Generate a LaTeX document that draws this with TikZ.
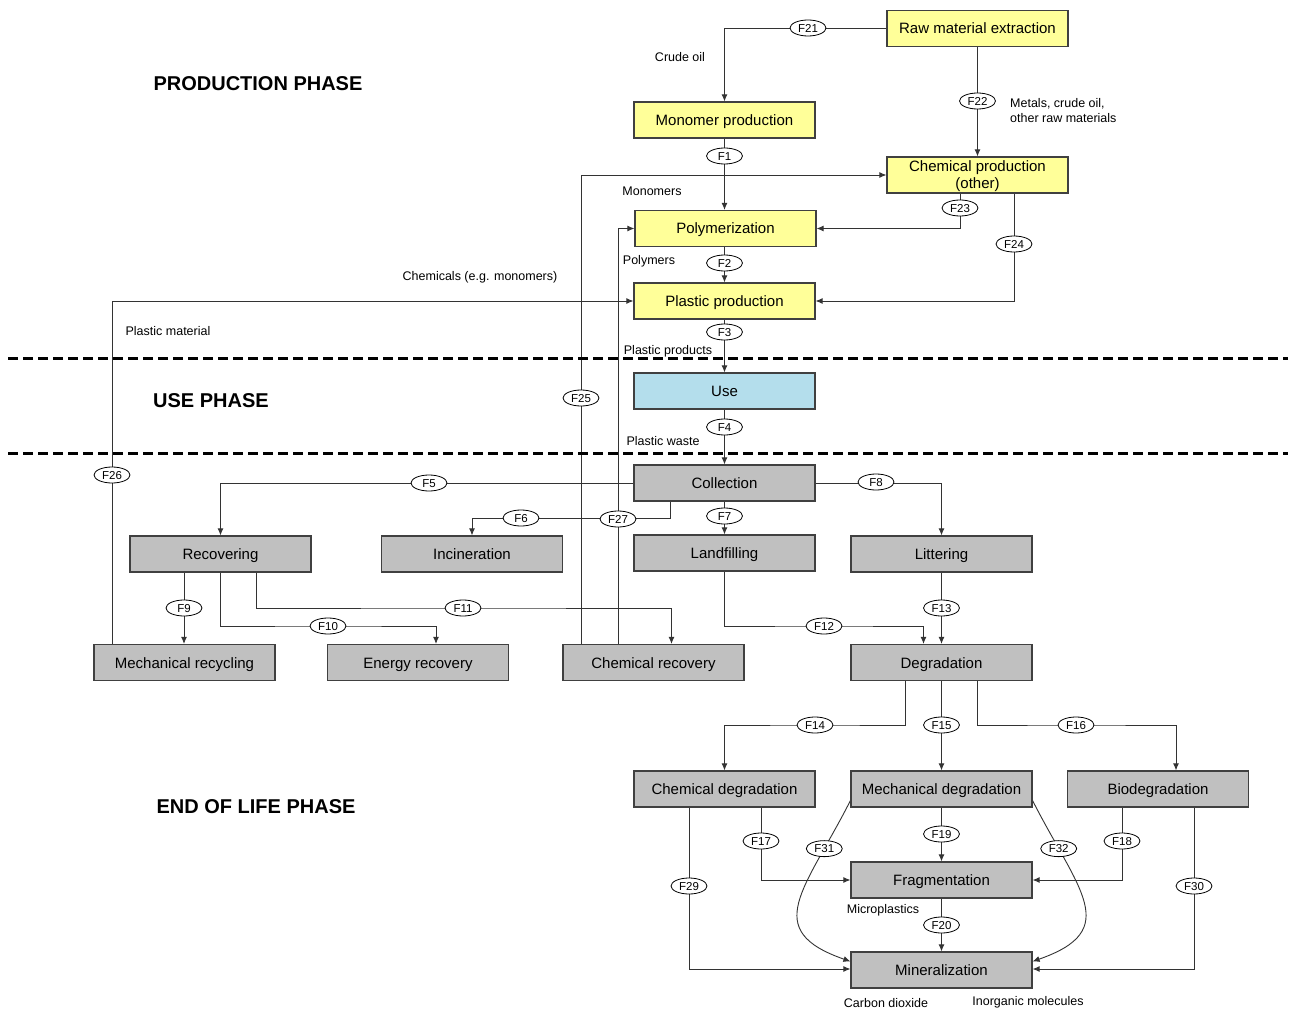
\documentclass[tikz,border=0pt]{standalone}
\usepackage{fontspec}
\setmainfont{Liberation Sans}
\usetikzlibrary{arrows.meta,backgrounds,shapes.geometric,calc}
\definecolor{yfill}{RGB}{255,255,153}
\definecolor{gfill}{RGB}{192,192,192}
\definecolor{bfill}{RGB}{180,222,236}
\begin{document}
\begin{tikzpicture}[x=1pt,y=-1pt,
 box/.style={draw=black!75,line width=1.2pt,minimum width=181pt,minimum height=36pt,inner sep=0pt,font=\fontsize{15}{17}\selectfont,align=center,text height=11pt,text depth=0pt},
 ybox/.style={box,fill=yfill}, gbox/.style={box,fill=gfill}, bbox/.style={box,fill=bfill},
 flow/.style={ellipse,draw=black,line width=0.8pt,fill=white,minimum width=36pt,minimum height=16pt,inner sep=0pt,font=\fontsize{11.5}{11.5}\selectfont,text height=8.2pt,text depth=0pt},
 note/.style={font=\fontsize{12.5}{14.5}\selectfont,inner sep=0pt},
 phase/.style={font=\bfseries\fontsize{20}{22}\selectfont,inner sep=0pt},
 con/.style={draw=black!80,line width=0.9pt,-{Latex[length=7pt,width=6pt]}},
 lin/.style={draw=black!80,line width=0.9pt},
 sep/.style={line width=3pt,dash pattern=on 9.5pt off 5.5pt}
]
\useasboundingbox (0,0) rectangle (1291,1011);

% boxes
\node[ybox] (raw) at (977.5,28.5) {Raw material extraction};
\node[ybox] (mono) at (724.5,120) {Monomer production};
\node[ybox,text height=,text depth=0pt] (chem) at (977.5,175) {Chemical production\\(other)};
\node[ybox] (poly) at (725.5,228.5) {Polymerization};
\node[ybox] (plast) at (724.5,301) {Plastic production};
\node[bbox] (use) at (724.5,391) {Use};
\node[gbox] (coll) at (724.5,483) {Collection};
\node[gbox] (recov) at (220.5,554) {Recovering};
\node[gbox] (incin) at (472,554) {Incineration};
\node[gbox] (land) at (724.5,553) {Landfilling};
\node[gbox] (litt) at (941.5,554) {Littering};
\node[gbox] (mech) at (184.5,662.5) {Mechanical recycling};
\node[gbox] (energy) at (418,662.5) {Energy recovery};
\node[gbox] (chrec) at (653.5,662.5) {Chemical recovery};
\node[gbox] (degr) at (941.5,662.5) {Degradation};
\node[gbox] (chdeg) at (724.5,789) {Chemical degradation};
\node[gbox] (mdeg) at (941.5,789) {Mechanical degradation};
\node[gbox] (bio) at (1158,789) {Biodegradation};
\node[gbox] (frag) at (941.5,880) {Fragmentation};
\node[gbox] (mine) at (941.5,970) {Mineralization};

% flow labels
\node[flow] (f21) at (808,28) {F21};
\node[flow] (f22) at (977.5,101) {F22};
\node[flow] (f1) at (724.5,156) {F1};
\node[flow] (f23) at (960,208) {F23};
\node[flow] (f24) at (1014,244) {F24};
\node[flow] (f2) at (724.5,263) {F2};
\node[flow] (f3) at (724.5,332) {F3};
\node[flow] (f4) at (724.5,427) {F4};
\node[flow] (f25) at (581,398) {F25};
\node[flow] (f26) at (112,475) {F26};
\node[flow] (f5) at (429,483) {F5};
\node[flow] (f6) at (521,518) {F6};
\node[flow] (f27) at (618,519) {F27};
\node[flow] (f7) at (724.5,516) {F7};
\node[flow] (f8) at (876,482) {F8};
\node[flow] (f9) at (184,608) {F9};
\node[flow] (f10) at (328,626) {F10};
\node[flow] (f11) at (463,608) {F11};
\node[flow] (f12) at (824,626) {F12};
\node[flow] (f13) at (941.5,608) {F13};
\node[flow] (f14) at (815,725) {F14};
\node[flow] (f15) at (941.5,725) {F15};
\node[flow] (f16) at (1076,725) {F16};
\node[flow] (f17) at (761,841) {F17};
\node[flow] (f18) at (1122,841) {F18};
\node[flow] (f19) at (941.5,834) {F19};
\node[flow] (f29) at (689,886) {F29};
\node[flow] (f30) at (1194,886) {F30};
\node[flow] (f20) at (941.5,925) {F20};
\coordinate (c6) at (670,518);

% connectors
\begin{pgfonlayer}{background}
\draw[con] (raw.west) -| (mono.north);
\draw[con] (raw.south) -- (chem.north);
\draw[con] (mono.south) -- (mono.south |- poly.north);
\draw[con] (f23 |- chem.south) |- (poly.east);
\draw[con] (f24 |- chem.south) |- (plast.east);
\draw[con] (plast.north |- poly.south) -- (plast.north);
\draw[con] (plast.south) -- (use.north);
\draw[con] (use.south) -- (coll.north);
\draw[con] (f25 |- chrec.north) |- (chem.west);
\draw[con] (f27 |- chrec.north) |- (poly.west);
\draw[con] (f26 |- mech.north) |- (plast.west);
\draw[con] (coll.west) -| (recov.north);
\draw[con] (c6 |- coll.south) -- (c6) -| (incin.north);
\draw[con] (coll.south) -- (land.north);
\draw[con] (coll.east) -| (litt.north);
\draw[con] (f9 |- recov.south) -- (f9 |- mech.north);
\draw[con] (recov.south) |- (f10.center) -| ($(energy.north)+(18,0)$);
\draw[con] ($(recov.south)+(36,0)$) |- (f11.center) -| ($(chrec.north)+(18,0)$);
\draw[con] (land.south) |- (f12.center) -| ($(degr.north)+(-18,0)$);
\draw[con] (litt.south) -- (degr.north);
\draw[con] ($(degr.south)+(-36,0)$) |- (f14.center) -| (chdeg.north);
\draw[con] (degr.south) -- (mdeg.north);
\draw[con] ($(degr.south)+(36,0)$) |- (f16.center) -| ($(bio.north)+(18,0)$);
\draw[con] (f17 |- chdeg.south) |- (frag.west);
\draw[con] (f29 |- chdeg.south) |- ($(mine.west)+(0,-1)$);
\draw[con] (mdeg.south) -- (frag.north);
\draw[con] (f18 |- bio.south) |- (frag.east);
\draw[con] (f30 |- bio.south) |- ($(mine.east)+(0,-1)$);
\draw[con] (frag.south) -- (mine.north);
\draw[con] ($(mdeg.south west)+(0,-7)$) .. controls (805,890) and (760,930) .. ($(mine.north west)+(0,10)$)
  node[flow,pos=0.2] (f31) {F31};
\draw[con] ($(mdeg.south east)+(0,-7)$) .. controls (1078,890) and (1123,930) .. ($(mine.north east)+(0,10)$)
  node[flow,pos=0.2] (f32) {F32};
\end{pgfonlayer}

% separators
\draw[sep] (8,358) -- (1288,358);
\draw[sep] (8,453) -- (1288,453);

% annotations
\node[note] (t1) at (680,57) {Crude oil};
\node[note,anchor=west,align=left] (t2) at (1010,110.5) {Metals, crude oil,\\other raw materials};
\node[note] (t3) at (652,191) {Monomers};
\node[note] (t4) at (649,261) {Polymers};
\node[note] (t5) at (480,277) {Chemicals (e.g. monomers)};
\node[note] (t6) at (168,331) {Plastic material};
\node[note] (t7) at (668,351) {Plastic products};
\node[note] (t8) at (663,441) {Plastic waste};
\node[note] (t9) at (883,910) {Microplastics};
\node[note] (t10) at (886,1003) {Carbon dioxide};
\node[note] (t11) at (1028,1002) {Inorganic molecules};

\node[phase] (p1) at (258,84) {PRODUCTION PHASE};
\node[phase] (p2) at (211,401) {USE PHASE};
\node[phase] (p3) at (256,807) {END OF LIFE PHASE};
\end{tikzpicture}
\end{document}
